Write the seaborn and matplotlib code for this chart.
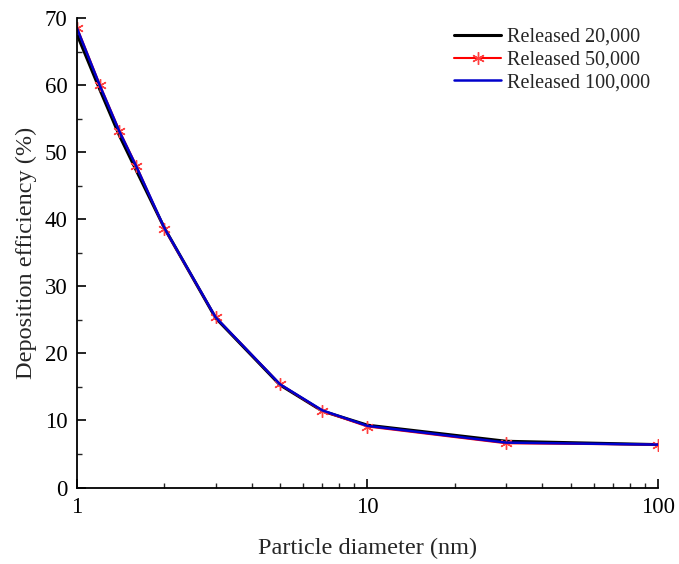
import matplotlib
matplotlib.use("Agg")
import matplotlib.pyplot as plt
import matplotlib.ticker as mticker
import seaborn as sns
import numpy as np

diameter = [1, 1.2, 1.4, 1.6, 2, 3, 5, 7, 10, 30, 100]
eff_20k = [67.6, 59.3, 52.5, 47.3, 38.7, 25.3, 15.3, 11.4, 9.3, 6.9, 6.4]
eff_50k = [68.6, 60.0, 53.2, 48.0, 38.6, 25.4, 15.4, 11.4, 9.1, 6.6, 6.4]
eff_100k = [68.5, 59.9, 53.1, 47.9, 38.7, 25.4, 15.4, 11.5, 9.2, 6.7, 6.4]
labels = ["Released 20,000", "Released 50,000", "Released 100,000"]

sns.set_theme(style="ticks")
plt.rcParams["font.family"] = ["Liberation Serif", "DejaVu Serif"]

fig = plt.figure(figsize=(6.79, 5.64), dpi=100)
ax = fig.add_axes([0.1134, 0.1356, 0.8556, 0.832])

sns.lineplot(x=diameter, y=eff_20k, color="black", lw=2.2, ax=ax, label=labels[0])
sns.lineplot(x=diameter, y=eff_50k, color="red", lw=1.5, marker=(6, 2, 0), markersize=9,
             markeredgecolor="#ff4040", markeredgewidth=1.0, ax=ax, label=labels[1])
sns.lineplot(x=diameter, y=eff_100k, color="#0000cc", lw=1.8, ax=ax, label=labels[2])

ax.set_xscale("log")
ax.set_xlim(1, 100)
ax.set_ylim(0, 70)
ax.xaxis.set_major_locator(mticker.FixedLocator([1, 10, 100]))
ax.xaxis.set_major_formatter(mticker.FixedFormatter(["1", "10", "100"]))
ax.xaxis.set_minor_locator(mticker.LogLocator(base=10, subs=np.arange(2, 10)))
ax.xaxis.set_minor_formatter(mticker.NullFormatter())
ax.yaxis.set_major_locator(mticker.MultipleLocator(10))
ax.yaxis.set_minor_locator(mticker.MultipleLocator(5))

ax.tick_params(which="major", length=6.5, width=1.2, direction="in", labelsize=16.5,
               colors="black", pad=7)
ax.tick_params(which="minor", length=3.5, width=1.0, direction="in")
for s in ["left", "bottom"]:
    ax.spines[s].set_linewidth(1.3)
    ax.spines[s].set_color("black")
sns.despine(ax=ax)

ax.set_xlabel("Particle diameter (nm)", fontsize=17.5, labelpad=14)
ax.set_ylabel("Deposition efficiency (%)", fontsize=17.5, labelpad=5)

leg = ax.legend(loc="upper right", bbox_to_anchor=(1.014, 1.014), frameon=False, fontsize=14.5,
                handlelength=2.3, handletextpad=0.3, labelspacing=0.18, borderpad=0.3)

fig.savefig("out.png", dpi=100)
